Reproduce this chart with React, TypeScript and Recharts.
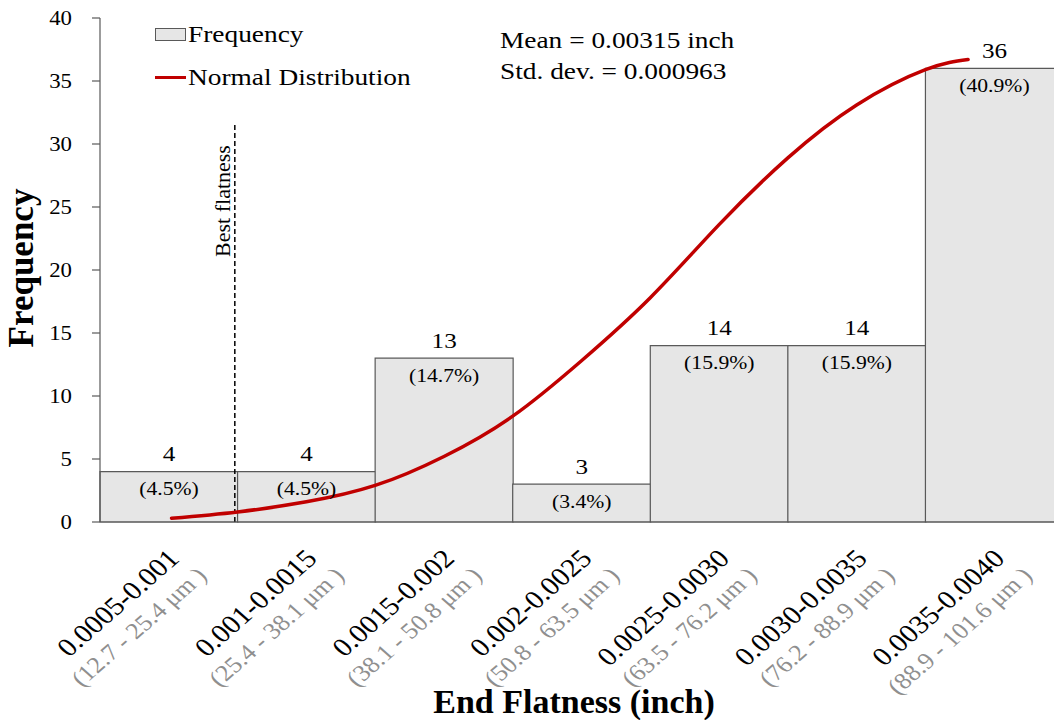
import React from "react";
import {
  ComposedChart,
  Bar,
  Line,
  XAxis,
  YAxis,
  LabelList,
  ReferenceLine,
  Legend,
} from "recharts";

// histogram bins (inch) and the same bins in micrometres
const ranges = [
  "0.0005-0.001",
  "0.001-0.0015",
  "0.0015-0.002",
  "0.002-0.0025",
  "0.0025-0.0030",
  "0.0030-0.0035",
  "0.0035-0.0040",
];
const micronRanges = [
  "(12.7 - 25.4 μm )",
  "(25.4 - 38.1 μm )",
  "(38.1 - 50.8 μm )",
  "(50.8 - 63.5 μm )",
  "(63.5 - 76.2 μm )",
  "(76.2 - 88.9 μm )",
  "(88.9 - 101.6 μm )",
];
const counts = [4, 4, 13, 3, 14, 14, 36];
const shares = ["4.5%", "4.5%", "14.7%", "3.4%", "15.9%", "15.9%", "40.9%"];
const yTicks = [0, 5, 10, 15, 20, 25, 30, 35, 40];

// normal curve, x measured in bins (0 = left edge of the first bin)
const curveX = [0.52, 1.0, 1.5, 2.0, 2.5, 3.0, 3.5, 4.0, 4.5, 5.0, 5.5, 6.0, 6.31];
const curveY = [0.3, 0.8, 1.6, 2.9, 5.2, 8.4, 12.8, 17.8, 23.6, 28.9, 33.1, 35.9, 36.7];

// "best flatness" marker position (bins) and height (frequency)
const bestFlatnessX = 0.98;
const bestFlatnessTop = 31.7;

const bars = ranges.map((range, i) => ({ range, count: counts[i] }));
const curve = curveX.map((u, i) => ({ u, v: curveY[i] }));

const FONT = "'Liberation Serif', 'Times New Roman', serif";
const STRETCH = 1.14;
const RED = "#c00000";
const EDGE = "#595959";
const BAR_FILL = "#e6e6e6";

const RangeTick = (props: any) => {
  const { x, y, payload } = props;
  const i = ranges.indexOf(payload.value);
  return (
    <g transform={`translate(${x + 12},${y + 38}) scale(${STRETCH},1) rotate(-45)`}>
      <text x={0} y={0} textAnchor="end" fontSize={26} fill="#000">
        {payload.value}
      </text>
      <text x={5} y={29} textAnchor="end" fontSize={23} fill="#8f8f8f">
        {micronRanges[i]}
      </text>
    </g>
  );
};

const CountTick = (props: any) => {
  const { x, y, payload } = props;
  return (
    <text
      transform={`translate(${x},${y}) scale(${STRETCH},1)`}
      textAnchor="end"
      dy="0.35em"
      fontSize={20}
      fill="#000"
    >
      {payload.value}
    </text>
  );
};

const BarLabel = (props: any) => {
  const { x, y, width, value, index } = props;
  const cx = Number(x) + Number(width) / 2;
  const top = Number(y);
  return (
    <g>
      <text
        transform={`translate(${cx},${top - 18}) scale(${STRETCH},1)`}
        textAnchor="middle"
        dy="0.35em"
        fontSize={22}
        fill="#000"
      >
        {value}
      </text>
      <text
        transform={`translate(${cx},${top + 17}) scale(${STRETCH},1)`}
        textAnchor="middle"
        dy="0.35em"
        fontSize={19}
        fill="#000"
      >
        ({shares[index]})
      </text>
    </g>
  );
};

const LegendBox = () => {
  const label = {
    marginLeft: 2,
    display: "inline-block",
    transform: `scaleX(${STRETCH})`,
    transformOrigin: "left center",
    whiteSpace: "nowrap" as const,
  };
  return (
    <div style={{ fontFamily: FONT, fontSize: 24, color: "#000" }}>
      <div style={{ display: "flex", alignItems: "center", height: 43 }}>
        <span
          style={{
            width: 31,
            height: 13,
            background: BAR_FILL,
            border: `1px solid ${EDGE}`,
            boxSizing: "border-box",
          }}
        />
        <span style={label}>Frequency</span>
      </div>
      <div style={{ display: "flex", alignItems: "center", height: 43 }}>
        <span style={{ width: 31, height: 3, background: RED }} />
        <span style={label}>Normal Distribution</span>
      </div>
    </div>
  );
};

export default function App() {
  return (
    <div
      style={{
        position: "absolute",
        left: 0,
        top: 0,
        width: 1054,
        height: 720,
        overflow: "hidden",
        background: "#fff",
        fontFamily: FONT,
      }}
    >
      <ComposedChart
        width={1063}
        height={720}
        data={bars}
        barCategoryGap={0}
        margin={{ top: 18, right: 0, bottom: 0, left: 0 }}
      >
        <XAxis
          xAxisId="cat"
          dataKey="range"
          interval={0}
          height={198}
          tickLine={false}
          tickSize={0}
          tickMargin={0}
          axisLine={{ stroke: EDGE, strokeWidth: 1.2 }}
          tick={<RangeTick />}
          label={{
            content: () => (
              <text
                x={574}
                y={701}
                textAnchor="middle"
                dy="0.35em"
                fontSize={34}
                fontWeight="bold"
                fill="#000"
              >
                End Flatness (inch)
              </text>
            ),
          }}
        />
        <XAxis
          xAxisId="u"
          type="number"
          dataKey="u"
          domain={[0, 7]}
          allowDataOverflow
          hide
        />
        <YAxis
          width={100}
          domain={[0, 40]}
          ticks={yTicks}
          interval={0}
          tickSize={8}
          tickMargin={20}
          axisLine={{ stroke: EDGE, strokeWidth: 1.2 }}
          tickLine={{ stroke: EDGE, strokeWidth: 1.2 }}
          tick={<CountTick />}
          label={{
            content: () => (
              <text
                transform="translate(21,268) rotate(-90)"
                textAnchor="middle"
                dy="0.35em"
                fontSize={35}
                fontWeight="bold"
                fill="#000"
              >
                Frequency
              </text>
            ),
          }}
        />
        <Legend
          layout="vertical"
          align="center"
          verticalAlign="middle"
          wrapperStyle={{ top: 13, left: 155, width: 320 }}
          content={() => <LegendBox />}
        />
        <Bar
          xAxisId="cat"
          dataKey="count"
          fill={BAR_FILL}
          stroke={EDGE}
          strokeWidth={1.2}
          isAnimationActive={false}
        >
          <LabelList dataKey="count" content={<BarLabel />} />
        </Bar>
        <ReferenceLine
          xAxisId="u"
          segment={[
            { x: bestFlatnessX, y: 0 },
            { x: bestFlatnessX, y: bestFlatnessTop },
          ]}
          stroke="#000"
          strokeWidth={1.5}
          strokeDasharray="5 3"
          label={(props: any) => {
            const vx = props?.viewBox?.x ?? 235;
            return (
              <text
                transform={`translate(${vx - 12.7},201) rotate(-90)`}
                textAnchor="middle"
                dy="0.35em"
                fontSize={22}
                fill="#000"
              >
                Best flatness
              </text>
            );
          }}
        />
        <Line
          xAxisId="u"
          data={curve}
          dataKey="v"
          type="natural"
          stroke={RED}
          strokeWidth={3.5}
          strokeLinecap="round"
          dot={false}
          activeDot={false}
          isAnimationActive={false}
        />
      </ComposedChart>
      <div
        style={{
          position: "absolute",
          left: 500,
          top: 24.7,
          fontSize: 24,
          lineHeight: "31px",
          color: "#000",
          transform: `scaleX(${STRETCH})`,
          transformOrigin: "0 0",
          whiteSpace: "nowrap",
        }}
      >
        <div>Mean = 0.00315 inch</div>
        <div>Std. dev. = 0.000963</div>
      </div>
    </div>
  );
}
